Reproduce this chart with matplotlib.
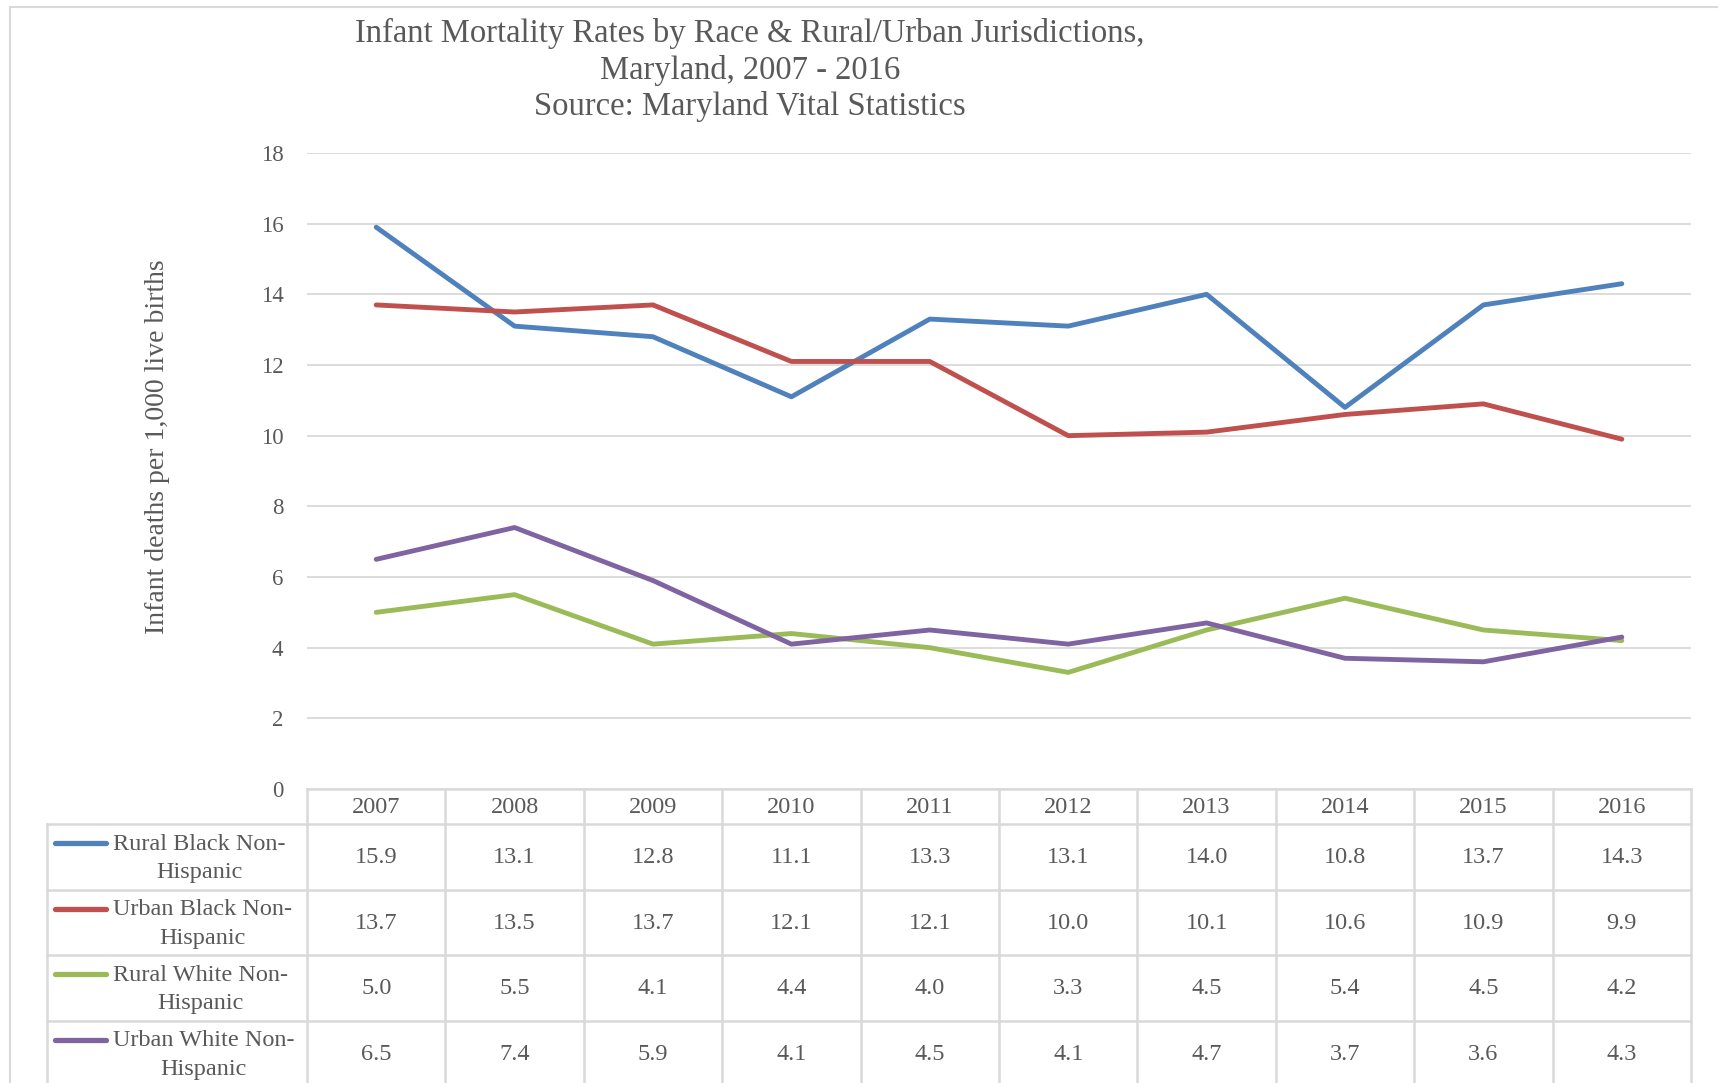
import matplotlib.pyplot as plt
import matplotlib.transforms as mtransforms

plt.rcParams['font.family'] = ['Liberation Serif', 'DejaVu Serif']

years = ['2007', '2008', '2009', '2010', '2011', '2012', '2013', '2014', '2015', '2016']
series_names = ['Rural Black Non-\nHispanic', 'Urban Black Non-\nHispanic',
                'Rural White Non-\nHispanic', 'Urban White Non-\nHispanic']
rural_black = [15.9, 13.1, 12.8, 11.1, 13.3, 13.1, 14.0, 10.8, 13.7, 14.3]
urban_black = [13.7, 13.5, 13.7, 12.1, 12.1, 10.0, 10.1, 10.6, 10.9, 9.9]
rural_white = [5.0, 5.5, 4.1, 4.4, 4.0, 3.3, 4.5, 5.4, 4.5, 4.2]
urban_white = [6.5, 7.4, 5.9, 4.1, 4.5, 4.1, 4.7, 3.7, 3.6, 4.3]
colors = ['#4F81BD', '#C0504D', '#9BBB59', '#8064A2']
all_series = [rural_black, urban_black, rural_white, urban_white]

txt = '#595959'
grid = '#D9D9D9'
W, H = 1718, 1083

fig = plt.figure(figsize=(W / 100, H / 100), dpi=100)

# overlay in pixel coords (y from top) for layout things
ov = fig.add_axes([0, 0, 1, 1])
ov.set_xlim(0, W)
ov.set_ylim(H, 0)
ov.axis('off')

# plot area
px_l, px_r, px_t, px_b = 307, 1691, 153, 789
ax = fig.add_axes([px_l / W, 1 - px_b / H, (px_r - px_l) / W, (px_b - px_t) / H])
x = list(range(len(years)))
for s, c in zip(all_series, colors):
    ax.plot(x, s, color=c, lw=3.5, solid_joinstyle='round', solid_capstyle='round', zorder=3)
ax.set_xlim(-0.5, len(years) - 0.5)
ax.set_ylim(0, 18)
ax.set_yticks(range(0, 19, 2))
ax.yaxis.grid(True, color=grid, lw=1.3)
ax.set_axisbelow(True)
ax.set_xticks([])
for sp in ax.spines.values():
    sp.set_visible(False)
ax.tick_params(axis='y', length=0, pad=17, labelsize=16.5, labelcolor=txt)
ax.set_ylabel('Infant deaths per 1,000 live births', fontsize=20, color=txt, va='center')
ax.yaxis.set_label_coords(-0.108, 0.538)

# title
ttl = dict(ha='center', va='center', fontsize=23.5, color=txt)
ov.text(750, 33, 'Infant Mortality Rates by Race & Rural/Urban Jurisdictions,', **ttl)
ov.text(750, 70, 'Maryland, 2007 - 2016', **ttl)
ov.text(750, 107, 'Source: Maryland Vital Statistics', **ttl)

# outer chart border
ov.plot([10, 10], [7, H + 5], color=grid, lw=1.5, clip_on=False)
ov.plot([10, W + 5], [7, 7], color=grid, lw=1.5, clip_on=False)

# data table
tr = mtransforms.blended_transform_factory(ax.transData, ov.transData)
tab_left = 47
head_top = 789
head_bot = 824
row_h = 65.5
row_tops = [head_bot + i * row_h for i in range(len(all_series))]
bottom = H + 5
fs = 17.5

# horizontal lines
ov.plot([px_l, px_r], [head_top, head_top], color=grid, lw=1.8, zorder=2)
for rt in [head_bot] + [r + row_h for r in row_tops]:
    ov.plot([tab_left, px_r], [rt, rt], color=grid, lw=1.8, zorder=2, clip_on=False)
# vertical lines
for i in range(len(years) + 1):
    ax.plot([i - 0.5, i - 0.5], [head_top, bottom], color=grid, lw=1.8, transform=tr, clip_on=False)
ov.plot([tab_left, tab_left], [head_bot, bottom], color=grid, lw=1.8, clip_on=False)

for i, yr in enumerate(years):
    ax.text(i, (head_top + head_bot) / 2 + 1, yr, transform=tr, ha='center', va='center',
            fontsize=fs, color=txt)

for r, (name, s, c) in enumerate(zip(series_names, all_series, colors)):
    rt = row_tops[r]
    ov.plot([55, 106], [rt + 19, rt + 19], color=c, lw=3.8, solid_capstyle='round')
    ov.text(113, rt + 34.5, name, ha='left', va='center', multialignment='center',
            linespacing=1.45, fontsize=fs, color=txt)
    for i, v in enumerate(s):
        ax.text(i, rt + row_h / 2 + 1, f'{v:.1f}', transform=tr, ha='center', va='center',
                fontsize=fs, color=txt)

fig.savefig('out.png', dpi=100)
